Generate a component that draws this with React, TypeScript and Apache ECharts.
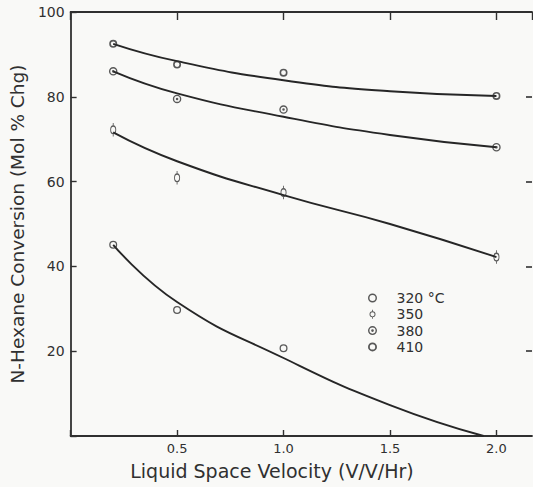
import React, { useEffect, useRef } from 'react';
import * as echarts from 'echarts';

// Measured points (Liquid space velocity, V/V/Hr)
const velocity = [0.2, 0.5, 1.0, 2.0];
const velocity320 = [0.2, 0.5, 1.0];
const conv320 = [45.1, 29.7, 20.7];
const conv350 = [72.2, 60.9, 57.4, 42.2];
const conv380 = [86.0, 79.5, 77.0, 68.1];
const conv410 = [92.5, 87.6, 85.7, 80.2];

// Hand-drawn fitted curves
const fitX = [0.2, 0.5, 1.0, 1.5, 2.0];
const fit410 = [92.5, 88.4, 83.9, 81.3, 80.2];
const fit380 = [86.0, 80.8, 75.3, 71.0, 68.1];
const fit350 = [71.6, 64.8, 56.8, 50.0, 42.2];
const fitX320 = [0.2, 0.5, 1.0, 1.5, 1.94];
const fit320 = [45.1, 31.6, 18.4, 7.3, 0];

const legendNames = ['320 °C', '350', '380', '410'];
const xTickLabels = [0.5, 1.0, 1.5, 2.0];
const yTickLabels = [20, 40, 60, 80, 100];

const FONT = 'DejaVu Sans';
const INK = '#303030';

const ring = (ri: number) =>
  `M0,-5A5,5 0 1,1 0,5A5,5 0 1,1 0,-5Z M0,-${ri}A${ri},${ri} 0 1,0 0,${ri}A${ri},${ri} 0 1,0 0,-${ri}Z`;
const dot = (r: number) => `M0,-${r}A${r},${r} 0 1,1 0,${r}A${r},${r} 0 1,1 0,-${r}Z`;
const sym320 = 'path://' + ring(3.4);
const sym350 = 'path://' + ring(3.5) + ' M-0.7,-7.5L0.7,-7.5L0.7,-5L-0.7,-5Z M-0.7,5L0.7,5L0.7,7.5L-0.7,7.5Z';
const sym380 = 'path://' + ring(3.4) + ' ' + dot(1.5);
const sym410 = 'path://' + ring(3.0);

const pairs = (xs: number[], ys: number[]) => ys.map((y, i) => [xs[i], y]);

export default function App() {
  const ref = useRef<HTMLDivElement>(null);
  useEffect(() => {
    document.body.style.margin = '0';
    const chart = echarts.init(ref.current!, undefined, { renderer: 'svg' });
    const scatter = (name: string, xs: number[], ys: number[], symbol: string, size: any) => ({
      type: 'scatter',
      name,
      data: pairs(xs, ys),
      symbol,
      symbolSize: size,
      symbolKeepAspect: true,
      itemStyle: { color: INK },
      z: 5,
    });
    const curve = (xs: number[], ys: number[]) => ({
      type: 'line',
      data: pairs(xs, ys),
      smooth: 0.5,
      showSymbol: false,
      symbol: 'none',
      lineStyle: { color: '#262626', width: 1.9 },
      z: 3,
    });
    const lineStyle = { color: INK, width: 1.8 };
    chart.setOption({
      animation: false,
      backgroundColor: '#f9f9f7',
      grid: { left: 66, top: 12, width: 466, height: 424 },
      legend: {
        data: legendNames,
        orient: 'vertical',
        left: 363,
        top: 286,
        itemWidth: 38,
        itemHeight: 9,
        itemGap: 2.3,
        textStyle: { fontFamily: FONT, fontSize: 14, color: INK, lineHeight: 14 },
      },
      xAxis: [
        {
          type: 'value',
          position: 'bottom',
          min: 0,
          max: 2.167,
          interval: 0.5,
          axisLine: { show: true, onZero: false, lineStyle },
          axisTick: { show: true, inside: true, length: 6, lineStyle: { color: INK, width: 1.4 } },
          axisLabel: {
            fontFamily: FONT,
            fontSize: 13,
            color: INK,
            margin: 6,
            showMaxLabel: false,
            formatter: (v: number) => (xTickLabels.some((t) => Math.abs(t - v) < 1e-6) ? v.toFixed(1) : ''),
          },
          splitLine: { show: false },
        },
        {
          type: 'value',
          position: 'top',
          min: 0,
          max: 2.167,
          interval: 0.5,
          axisLine: { show: true, onZero: false, lineStyle },
          axisTick: { show: true, inside: true, length: 8, lineStyle: { color: INK, width: 1.4 } },
          axisLabel: { show: false },
          splitLine: { show: false },
        },
      ],
      yAxis: [
        {
          type: 'value',
          position: 'left',
          min: 0,
          max: 100,
          interval: 20,
          name: 'N-Hexane Conversion (Mol % Chg)',
          nameLocation: 'middle',
          nameGap: 38,
          nameRotate: 90,
          nameTextStyle: { fontFamily: FONT, fontSize: 18.5, color: INK },
          axisLine: { show: true, onZero: false, lineStyle },
          axisTick: { show: true, inside: true, length: 6, lineStyle: { color: INK, width: 1.4 } },
          axisLabel: {
            fontFamily: FONT,
            fontSize: 14,
            color: INK,
            margin: 6,
            formatter: (v: number) => (yTickLabels.includes(v) ? String(v) : ''),
          },
          splitLine: { show: false },
        },
        {
          type: 'value',
          position: 'right',
          min: 0,
          max: 100,
          interval: 20,
          axisLine: { show: false, onZero: false },
          axisTick: { show: true, inside: true, length: 6, lineStyle: { color: INK, width: 1.6 } },
          axisLabel: { show: false },
          splitLine: { show: false },
        },
      ],
      graphic: [
        {
          type: 'text',
          x: 272,
          y: 471,
          style: {
            text: 'Liquid Space Velocity (V/V/Hr)',
            fontFamily: FONT,
            fontSize: 19,
            fill: INK,
            align: 'center',
            verticalAlign: 'middle',
          },
        },
      ],
      series: [
        curve(fitX, fit410),
        curve(fitX, fit380),
        curve(fitX, fit350),
        curve(fitX320, fit320),
        scatter('320 °C', velocity320, conv320, sym320, 8),
        scatter('350', velocity, conv350, sym350, [9, 13.5]),
        scatter('380', velocity, conv380, sym380, 8.5),
        scatter('410', velocity, conv410, sym410, 8),
      ],
    });
    return () => chart.dispose();
  }, []);
  return <div ref={ref} style={{ position: 'fixed', left: 0, top: 0, width: 533, height: 487 }} />;
}
